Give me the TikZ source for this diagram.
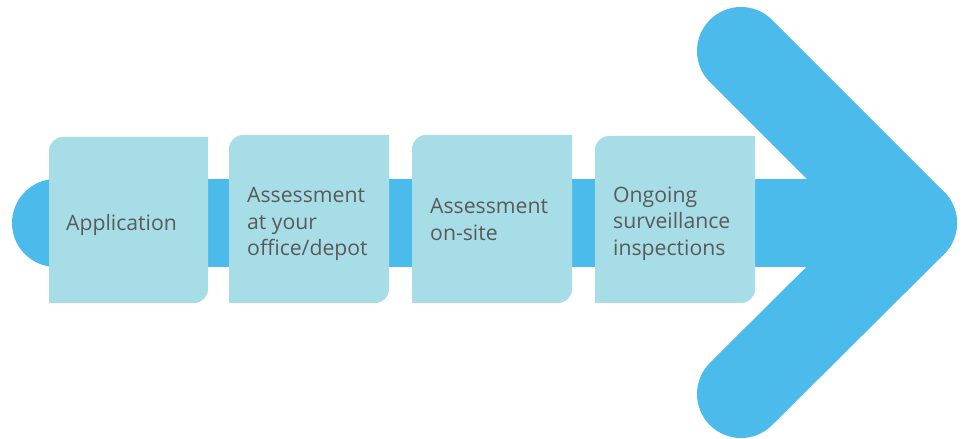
\documentclass[tikz,border=0pt]{standalone}
\usepackage{fontspec}
\setmainfont{Open Sans}
\definecolor{barblue}{HTML}{4ABBEB}
\definecolor{boxblue}{HTML}{A7DDE7}
\definecolor{txtgray}{HTML}{5A5A5A}
\begin{document}
\begin{tikzpicture}[x=1pt,y=1pt,
  barline/.style={draw=barblue,line width=88pt,line cap=round,line join=round},
  boxfill/.style={fill=boxblue},
  steptext/.style={anchor=west,align=left,inner sep=0pt,text=txtgray,
    font=\fontsize{21.2}{26.5}\selectfont}]
\useasboundingbox (0,0) rectangle (962,439);
% main bar and chevron
\coordinate (start) at (56,216);
\coordinate (tip) at (913,216);
\coordinate (top) at (741,388);
\coordinate (bot) at (741,45);
\draw[barline] (start) -- (tip);
\draw[barline] (top) -- (tip) -- (bot);
% boxes: rounded top-left and bottom-right corners
\newcommand{\stepbox}[4]{% left, right, bottom, top
  \fill[boxfill] (#1,#3) -- (#1,#4-14) arc[start angle=180,end angle=90,radius=14]
    -- (#2,#4) -- (#2,#3+14) arc[start angle=0,end angle=-90,radius=14] -- cycle;}
\stepbox{49}{208}{136}{302}
\stepbox{229}{389}{136}{304}
\stepbox{412}{572}{136}{304}
\stepbox{595}{755}{136}{303}
\node[steptext] (s1) at (66,214) {Application};
\node[steptext] (s2) at (247,215) {Assessment\\at your\\office/depot};
\node[steptext] (s3) at (430,219.5) {Assessment\\on-site};
\node[steptext] (s4) at (613,215.5) {Ongoing\\surveillance\\inspections};
\end{tikzpicture}
\end{document}
